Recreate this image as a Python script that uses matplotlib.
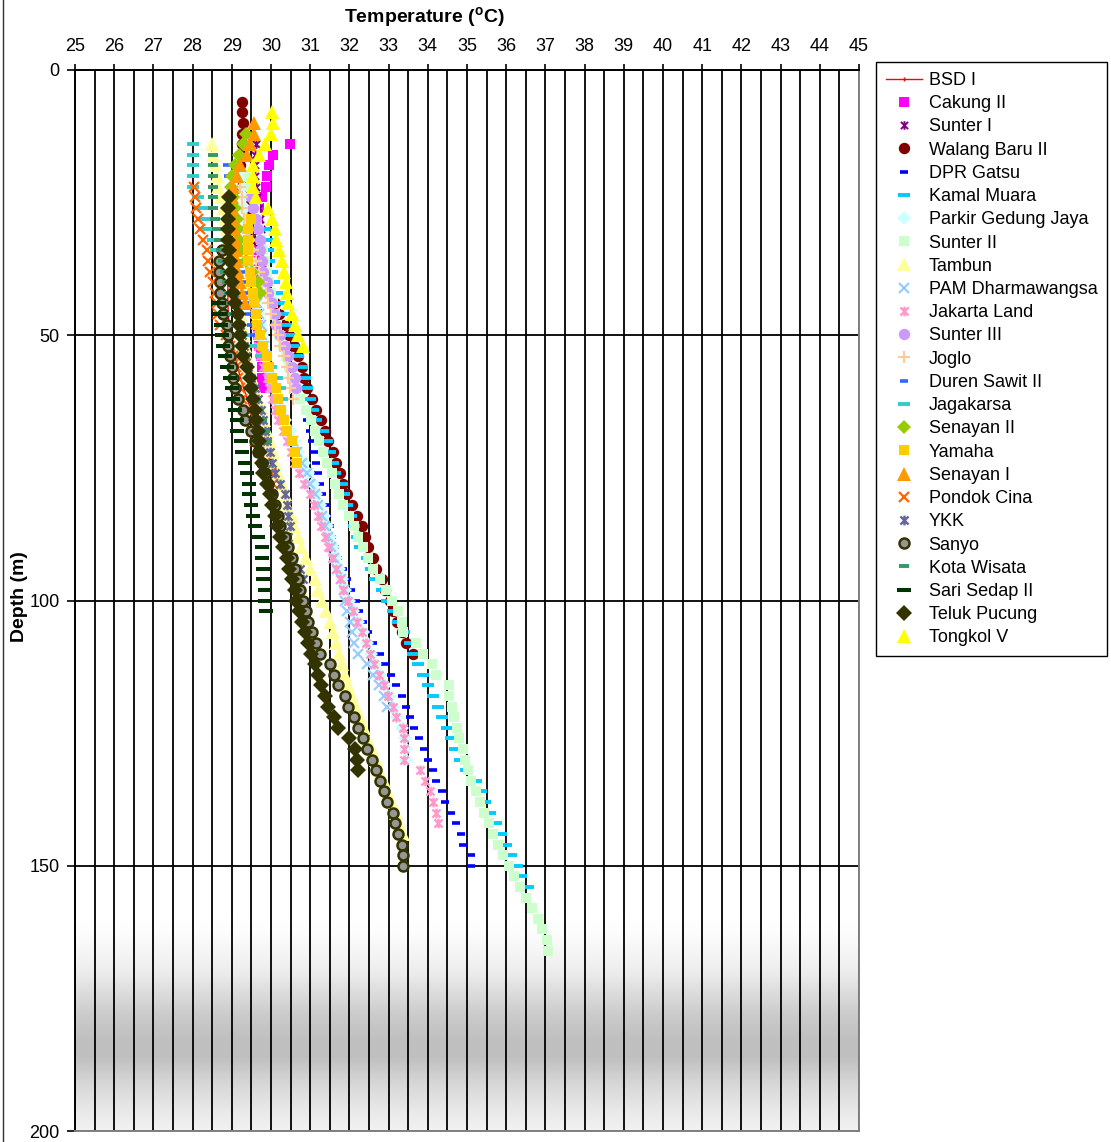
import numpy as np
import matplotlib
matplotlib.use("Agg")
import matplotlib.pyplot as plt
from matplotlib.path import Path
from matplotlib.lines import Line2D

plt.rcParams['font.family'] = ['Liberation Sans', 'DejaVu Sans']
plt.rcParams['mathtext.fontset'] = 'custom'
plt.rcParams['mathtext.rm'] = 'Liberation Sans'
plt.rcParams['mathtext.bf'] = 'Liberation Sans:bold'

# ---------------- data: temperature (deg C) read every 2 m from a start depth ----------------
bsd1_d0 = 20
bsd1_t = [29.2, 29.16, 29.12, 29.06, 29.0, 28.96, 28.93, 28.91, 28.9, 28.9, 28.9, 28.9, 28.9,
          28.91, 28.93, 28.96, 29.02, 29.08, 29.15, 29.22, 29.3, 29.4, 29.48]
cakung2_d0 = 14
cakung2_t = [30.48, 30.06, 29.96, 29.9, 29.87, 29.76, 29.7, 29.68, 29.66, 29.64, 29.62, 29.6,
             29.6, 29.6, 29.62, 29.62, 29.64, 29.66, 29.68, 29.7, 29.74, 29.76, 29.76, 29.76]
sunter1_d0 = 14
sunter1_t = [29.62, 29.6, 29.6, 29.6, 29.62, 29.65, 29.7, 29.72, 29.75]
walang_d0 = 6
walang_t = [29.26, 29.27, 29.28, 29.27, 29.25, 29.24, 29.22, 29.24, 29.28, 29.35, 29.42, 29.5,
            29.57, 29.64, 29.72, 29.8, 29.86, 29.92, 29.98, 30.1, 30.2, 30.33, 30.45, 30.58,
            30.68, 30.78, 30.85, 30.91, 31.05, 31.15, 31.27, 31.38, 31.46, 31.57, 31.66, 31.76,
            31.84, 31.95, 32.07, 32.2, 32.31, 32.4, 32.48, 32.59, 32.69, 32.82, 32.91, 33.04,
            33.12, 33.22, 33.33, 33.45, 33.63]
dpr_d0 = 60
dpr_t = [30.75, 30.82, 30.88, 30.93, 30.99, 31.05, 31.1, 31.15, 31.2, 31.26, 31.3, 31.37, 31.43,
         31.5, 31.55, 31.63, 31.71, 31.84, 31.95, 32.04, 32.16, 32.24, 32.34, 32.48, 32.61,
         32.78, 32.9, 33.06, 33.2, 33.33, 33.44, 33.55, 33.66, 33.78, 33.9, 34.01, 34.12,
         34.22, 34.35, 34.45, 34.6, 34.72, 34.84, 34.9, 35.09, 35.09]
kamal_d0 = 30
kamal_t = [29.85, 29.9, 29.93, 29.96, 30.02, 30.08, 30.15, 30.23, 30.32, 30.4, 30.48, 30.57,
           30.7, 30.78, 30.87, 30.91, 31.0, 31.08, 31.16, 31.33, 31.42, 31.5, 31.57, 31.63,
           31.8, 31.87, 31.95, 32.05, 32.12, 32.2, 32.27, 32.44, 32.55, 32.65, 32.82, 32.95,
           33.12, 33.25, 33.4, 33.55, 33.63, 33.76, 33.87, 34.01, 34.14, 34.25, 34.37, 34.48,
           34.58, 34.69, 34.82, 34.98, 35.22, 35.35, 35.46, 35.59, 35.74, 35.86, 36.0, 36.12,
           36.27, 36.39, 36.56]
pgj_d0 = 20
pgj_t = [29.25, 29.28, 29.3, 29.33, 29.36, 29.4, 29.43, 29.46, 29.5, 29.53, 29.56, 29.6, 29.64,
         29.68, 29.72, 29.76, 29.8, 29.86, 29.93, 30.0, 30.07, 30.15, 30.25, 30.36, 30.48,
         30.58, 30.7, 30.83, 30.95, 31.06, 31.16, 31.26, 31.34, 31.43, 31.5, 31.58, 31.65,
         31.73, 31.82, 31.9, 32.0, 32.1, 32.22, 32.34, 32.45, 32.55, 32.66, 32.78, 32.9,
         33.02, 33.12, 33.22, 33.35, 33.42, 33.44, 33.45]
sunter2_d0 = 20
sunter2_t = [29.45, 29.5, 29.55, 29.6, 29.65, 29.7, 29.75, 29.8, 29.85, 29.9, 29.95, 30.0,
             30.05, 30.1, 30.15, 30.2, 30.3, 30.38, 30.45, 30.55, 30.65,
             30.74, 30.9, 31.01, 31.12, 31.23, 31.32, 31.44, 31.55, 31.63, 31.74, 31.84, 32.0,
             32.12, 32.23, 32.35, 32.48, 32.61, 32.78, 32.93, 33.08, 33.25, 33.33, 33.38, 33.71,
             33.88, 34.1, 34.22, 34.55, 34.55, 34.61, 34.67, 34.74, 34.8, 34.89, 34.95, 35.03,
             35.1, 35.22, 35.33, 35.44, 35.57, 35.67, 35.8, 35.93, 36.08, 36.2, 36.35, 36.5,
             36.65, 36.8, 36.92, 37.03, 37.07]
tambun_d0 = 14
tambun_t = [28.5, 28.53, 28.57, 28.63, 28.66, 28.72, 28.78, 28.83, 28.88, 28.93, 28.98, 29.02,
            29.06, 29.1, 29.14, 29.18, 29.22, 29.26, 29.3, 29.34, 29.38, 29.45, 29.52, 29.6,
            29.68, 29.76, 29.83, 29.9, 29.97, 30.04, 30.1, 30.19, 30.27, 30.36, 30.42, 30.53,
            30.58, 30.68, 30.76, 30.9, 31.0, 31.12, 31.21, 31.29, 31.4, 31.5, 31.58, 31.66,
            31.74, 31.82, 31.89, 31.97, 32.06, 32.17, 32.27, 32.36, 32.46, 32.57, 32.68, 32.76,
            32.87, 32.95, 33.08, 33.19, 33.27, 33.38]
pam_d0 = 40
pam_t = [29.55, 29.6, 29.65, 29.7, 29.74, 29.78, 29.82, 29.86, 29.92, 29.98, 30.05, 30.12,
         30.2, 30.3, 30.42, 30.55, 30.66, 30.78, 30.91, 31.0, 31.12, 31.21, 31.29, 31.38,
         31.45, 31.52, 31.6, 31.68, 31.78, 31.87, 31.9, 31.93, 32.02, 32.06, 32.12, 32.23,
         32.46, 32.61, 32.76, 32.88, 32.97]
jakarta_d0 = 30
jakarta_t = [29.35, 29.38, 29.4, 29.42, 29.44, 29.46, 29.5, 29.53, 29.56, 29.6, 29.64, 29.68,
             29.72, 29.8, 29.89, 29.95, 30.02, 30.1, 30.19, 30.3, 30.4, 30.5, 30.58, 30.72,
             30.85, 31.0, 31.1, 31.2, 31.27, 31.38, 31.46, 31.55, 31.66, 31.76, 31.84, 31.97,
             32.1, 32.19, 32.31, 32.42, 32.53, 32.64, 32.76, 32.87, 32.99, 33.1, 33.2, 33.36,
             33.4, 33.4, 33.4, 33.8, 33.93, 34.06, 34.14, 34.22, 34.27]
sunter3_d0 = 24
sunter3_t = [29.5, 29.55, 29.63, 29.68, 29.72, 29.72, 29.76, 29.8, 29.89, 29.93, 30.02, 30.1,
             30.14, 30.22, 30.36, 30.44, 30.53, 30.61, 30.65]
joglo_d0 = 22
joglo_t = [29.22, 29.25, 29.27, 29.32, 29.38, 29.45, 29.55, 29.63, 29.7, 29.78, 29.86, 29.93,
           30.0, 30.1, 30.19, 30.23, 30.32, 30.4, 30.44, 30.48, 30.57]
duren_d0 = 18
duren_t = [28.87, 28.91, 28.95, 29.0, 29.04, 29.08, 29.12, 29.16, 29.2, 29.24, 29.28, 29.32,
           29.36, 29.4, 29.45, 29.5, 29.55]
jagakarsa_d0 = 14
jagakarsa_t = [28.0, 28.0, 28.0, 28.0, 28.0, 28.15, 28.24, 28.32, 28.4, 28.53, 28.6, 28.7,
               28.78, 28.85, 28.9, 28.98, 29.05, 29.15, 29.3, 29.5, 29.75, 30.0, 30.15, 30.22,
               30.27]
senayan2_d0 = 12
senayan2_t = [29.35, 29.28, 29.19, 29.08, 29.0, 28.98, 29.02, 29.08, 29.12, 29.16, 29.19,
              29.23, 29.35, 29.52, 29.66, 29.72]
yamaha_d0 = 28
yamaha_t = [29.5, 29.42, 29.42, 29.42, 29.42, 29.46, 29.5, 29.53, 29.57, 29.63, 29.65, 29.72,
            29.8, 29.89, 29.96, 30.02, 30.13, 30.19, 30.26, 30.33, 30.4, 30.53, 30.6, 30.67]
senayan1_d0 = 10
senayan1_t = [29.57, 29.57, 29.46, 29.38, 29.21, 29.12, 29.04, 29.0, 29.0, 29.02, 29.05,
              29.08, 29.11, 29.14, 29.17, 29.21, 29.25, 29.34]
pondok_d0 = 22
pondok_t = [28.04, 28.06, 28.09, 28.15, 28.19, 28.26, 28.36, 28.4, 28.44, 28.53, 28.57, 28.61,
            28.66, 28.7, 28.85, 28.95, 29.04, 29.1, 29.17, 29.21, 29.25, 29.38, 29.45, 29.52,
            29.6, 29.7, 29.85, 30.0, 30.06]
ykk_d0 = 36
ykk_t = [28.95, 28.97, 29.0, 29.05, 29.1, 29.15, 29.2, 29.25, 29.3, 29.36, 29.42, 29.5, 29.58,
         29.66, 29.74, 29.8, 29.85, 29.89, 29.97, 30.02, 30.1, 30.23, 30.36, 30.4, 30.44, 30.48,
         30.44, 30.47, 30.57, 30.74, 30.82]
sanyo_d0 = 34
sanyo_t = [28.74, 28.68, 28.68, 28.7, 28.7, 28.74, 28.78, 28.87, 28.91, 28.91, 28.95, 29.01,
           29.04, 29.08, 29.17, 29.28, 29.34, 29.5, 29.59, 29.68, 29.76, 29.85, 29.93, 30.02,
           30.1, 30.19, 30.23, 30.36, 30.44, 30.53, 30.61, 30.7, 30.74, 30.82, 30.9, 30.95,
           31.05, 31.16, 31.25, 31.5, 31.61, 31.72, 31.89, 31.97, 32.12, 32.23, 32.34, 32.46,
           32.57, 32.68, 32.78, 32.88, 32.97, 33.1, 33.17, 33.25, 33.33, 33.36, 33.38]
kota_d0 = 16
kota_t = [28.53, 28.52, 28.52, 28.52, 28.52, 28.53, 28.58, 28.63, 28.68, 28.73, 28.78, 28.83,
          28.88, 28.93, 28.98, 29.03, 29.1, 29.18, 29.25, 29.32, 29.4, 29.48, 29.55, 29.62,
          29.7, 29.78, 29.85, 29.89]
sari_d0 = 44
sari_t = [28.68, 28.7, 28.72, 28.74, 28.78, 28.83, 28.87, 28.95, 29.0, 29.04, 29.08, 29.12,
          29.14, 29.23, 29.25, 29.34, 29.38, 29.45, 29.45, 29.5, 29.55, 29.59, 29.68, 29.76,
          29.78, 29.79, 29.8, 29.85, 29.85, 29.87]
teluk_d0 = 24
teluk_t = [28.94, 28.91, 28.91, 28.91, 28.91, 28.94, 28.95, 28.97, 29.0, 29.04, 29.08, 29.17,
           29.19, 29.22, 29.25, 29.29, 29.38, 29.46, 29.5, 29.55, 29.59, 29.63, 29.68, 29.7,
           29.72, 29.76, 29.8, 29.89, 29.97, 30.02, 30.1, 30.16, 30.23, 30.31, 30.4, 30.47,
           30.53, 30.6, 30.64, 30.72, 30.78, 30.87, 30.95, 31.01, 31.12, 31.21, 31.27, 31.38,
           31.46, 31.61, 31.72, 31.99, 32.14, 32.19, 32.23]
tongkol_d0 = 8
tongkol_t = [30.02, 30.06, 29.99, 29.85, 29.7, 29.55, 29.53, 29.55, 29.62, 29.93, 30.02, 30.1,
             30.14, 30.21, 30.27, 30.33, 30.38, 30.4, 30.44, 30.53, 30.61, 30.7, 30.82]

names = ["BSD I", "Cakung II", "Sunter I", "Walang Baru II", "DPR Gatsu", "Kamal Muara",
         "Parkir Gedung Jaya", "Sunter II", "Tambun", "PAM Dharmawangsa", "Jakarta Land",
         "Sunter III", "Joglo", "Duren Sawit II", "Jagakarsa", "Senayan II", "Yamaha",
         "Senayan I", "Pondok Cina", "YKK", "Sanyo", "Kota Wisata", "Sari Sedap II",
         "Teluk Pucung", "Tongkol V"]
series_data = [(bsd1_d0, bsd1_t), (cakung2_d0, cakung2_t), (sunter1_d0, sunter1_t),
               (walang_d0, walang_t), (dpr_d0, dpr_t), (kamal_d0, kamal_t), (pgj_d0, pgj_t),
               (sunter2_d0, sunter2_t), (tambun_d0, tambun_t), (pam_d0, pam_t),
               (jakarta_d0, jakarta_t), (sunter3_d0, sunter3_t), (joglo_d0, joglo_t),
               (duren_d0, duren_t), (jagakarsa_d0, jagakarsa_t), (senayan2_d0, senayan2_t),
               (yamaha_d0, yamaha_t), (senayan1_d0, senayan1_t), (pondok_d0, pondok_t),
               (ykk_d0, ykk_t), (sanyo_d0, sanyo_t), (kota_d0, kota_t), (sari_d0, sari_t),
               (teluk_d0, teluk_t), (tongkol_d0, tongkol_t)]
depth_step = 2

# ---------------- styles ----------------
star = Path([(-1, -1), (1, 1), (-1, 1), (1, -1), (0, -1.2), (0, 1.2)],
            [Path.MOVETO, Path.LINETO, Path.MOVETO, Path.LINETO, Path.MOVETO, Path.LINETO])


def sty(color, marker, ms, mew=0.0, mec=None, ls='none', lw=1.0):
    return dict(color=color, marker=marker, markersize=ms, markeredgewidth=mew,
                markeredgecolor=mec if mec else color, markerfacecolor=color,
                linestyle=ls, linewidth=lw)


styles = [
    sty('#FF0000', '|', 3, 1.0, ls='-', lw=1.0),
    sty('#FF00FF', 's', 7.2),
    sty('#800080', star, 6.2, 1.4),
    sty('#800000', 'o', 8.2),
    sty('#0000FF', '_', 6, 2.6),
    sty('#00CCFF', '_', 9, 2.8),
    sty('#CCFFFF', 'D', 7.5),
    sty('#CCFFCC', 's', 7.8),
    sty('#FFFF99', '^', 9.5),
    sty('#99CCFF', 'x', 7, 1.6),
    sty('#FF99CC', star, 7, 1.7),
    sty('#CC99FF', 'o', 8.2),
    sty('#FFCC99', '+', 8, 1.6),
    sty('#3366FF', '_', 6, 2.6),
    sty('#33CCCC', '_', 9, 2.8),
    sty('#99CC00', 'D', 7.5),
    sty('#FFCC00', 's', 7.8),
    sty('#FF9900', '^', 9.5),
    sty('#FF6600', 'x', 7, 1.6),
    sty('#666699', star, 7, 1.7),
    sty('#969696', 'o', 7.2, 1.8, mec='#333300'),
    sty('#339966', '_', 7, 2.8),
    sty('#003300', '_', 10, 2.9),
    sty('#333300', 'D', 8.2),
    sty('#FFFF00', '^', 9.5),
]

# ---------------- figure ----------------
W, H = 1111, 1142
fig = plt.figure(figsize=(W / 100, H / 100), dpi=100)
x0, x1, y0, y1 = 75, 859, 70, 1131
ax = fig.add_axes([x0 / W, 1 - y1 / H, (x1 - x0) / W, (y1 - y0) / H])

# grey gradient band in the lower plot area
stops_d = [160, 163, 170, 178, 183, 186, 191, 196, 200]
stops_v = [1.0, 0.99, 0.93, 0.80, 0.75, 0.75, 0.84, 0.91, 0.95]
dd = np.linspace(160, 200, 200)
vv = np.interp(dd, stops_d, stops_v)
grad = np.repeat(vv[:, None, None], 3, axis=2)
ax.imshow(grad, extent=[25, 45, 200, 160], aspect='auto', zorder=0.1,
          interpolation='bilinear')

handles = []
for i, (name, (d0, temps), st) in enumerate(zip(names, series_data, styles)):
    depths = [d0 + depth_step * k for k in range(len(temps))]
    ln, = ax.plot(temps, depths, label=name, zorder=2 + i * 0.01, clip_on=True, **st)
    handles.append(ln)

ax.set_xlim(25, 45)
ax.set_ylim(200, 0)

ax.xaxis.tick_top()
ax.set_xticks(np.arange(25, 46, 1))
ax.set_xticks(np.arange(25.5, 45, 1), minor=True)
ax.set_yticks([0, 50, 100, 150, 200])
ax.tick_params(axis='x', which='major', direction='out', length=4, width=1.2, pad=7,
               labelsize=13, colors='black')
ax.tick_params(axis='x', which='minor', length=0)
ax.tick_params(axis='y', which='major', direction='out', length=6, width=1.2, pad=5,
               labelsize=13)
ax.set_axisbelow(True)
ax.grid(which='both', axis='x', color='black', linewidth=1.3)
ax.grid(which='major', axis='y', color='black', linewidth=1.3)

for s in ['top', 'left']:
    ax.spines[s].set_color('black')
    ax.spines[s].set_linewidth(1.4)
for s in ['bottom', 'right']:
    ax.spines[s].set_color('#808080')
    ax.spines[s].set_linewidth(1.4)
for s in ax.spines.values():
    s.set_zorder(5)

fig.text(424 / W, 1 - 18 / H, r'Temperature ($^{\mathbf{o}}$C)', ha='center', va='center',
         fontsize=14, fontweight='bold')
fig.text(20 / W, 1 - 597 / H, 'Depth (m)', ha='center', va='center', rotation=90,
         fontsize=14, fontweight='bold')

leg = ax.legend(handles=handles, loc='upper left', bbox_to_anchor=(876 / W, 1 - 62 / H),
                bbox_transform=fig.transFigure, fontsize=13, frameon=True, fancybox=False,
                edgecolor='black', framealpha=1, borderpad=0.55, labelspacing=0.345,
                handlelength=2.0, handletextpad=0.36, borderaxespad=0, numpoints=1)
leg.get_frame().set_linewidth(1.0)

fig.add_artist(Line2D([2.5 / W, 2.5 / W], [0, 1], color='#303030', lw=1.0))

fig.savefig('out.png', dpi=100)
